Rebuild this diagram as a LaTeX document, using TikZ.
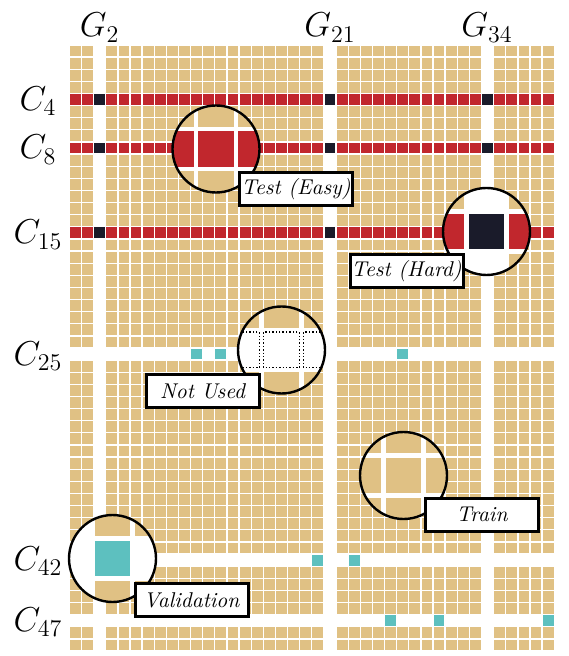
\documentclass[tikz,border=0pt]{standalone}
\definecolor{cellTan}{HTML}{E0C184}
\definecolor{cellRed}{HTML}{C1272D}
\definecolor{cellDark}{HTML}{1A1B2A}
\definecolor{cellTeal}{HTML}{5DC0BF}
\newcommand\gx[1]{69.4+#1*12.12+0.65}
\newcommand\gy[1]{45+#1*12.12+0.65}
\newcommand\gridcell[3]{\fill[#3] ({\gx{#1}},{\gy{#2}}) rectangle ++(10.82,10.82);}
\tikzset{
  lensborder/.style={draw=black,line width=1.2pt},
  lt/.style={fill=cellTan},
  lr/.style={fill=cellRed},
  lk/.style={fill=cellDark},
  lg/.style={fill=cellTeal},
  lw/.style={fill=white},
  ld/.style={draw=black,line width=0.7pt,dash pattern=on 0.7pt off 1pt},
  tagbox/.style={draw=black,fill=white,line width=1.5pt,minimum width=56.5pt,
    minimum height=16.5pt,inner sep=0pt,font=\fontsize{10.7}{13}\selectfont\itshape},
  axlabel/.style={font=\fontsize{17.5}{21}\selectfont,inner sep=0pt,anchor=base}
}
\newcommand\lens[5]{% name, cx, cy, radius, list i/j/style
  \begin{scope}[shift={(#2,#3)}]
    \begin{scope}
      \clip (0,0) circle (#4);
      \fill[white] (0,0) circle (#4);
      \foreach \i/\j/\cc in {#5}{\path[\cc] ({\i*40-17.8},{\j*40-17.8}) rectangle ++(35.6,35.6);}
    \end{scope}
    \draw[lensborder] (0,0) circle (#4);
    \coordinate (#1) at (0,0);
  \end{scope}}
\begin{document}
\begin{tikzpicture}[x=0.5pt,y=-0.5pt]
\useasboundingbox (0,0) rectangle (568,656);
% normal cells
\foreach \c in {0,1,3,4,...,20,22,23,...,33,35,36,...,39}{
  \foreach \r in {0,1,2,3,5,6,7,9,10,...,14,16,17,...,24,26,27,...,41,43,44,45,46,48,49}{
    \gridcell{\c}{\r}{cellTan}
  }
  \foreach \r in {4,8,15}{\gridcell{\c}{\r}{cellRed}}
}
\foreach \c in {2,21,34}{\foreach \r in {4,8,15}{\gridcell{\c}{\r}{cellDark}}}
\foreach \c/\r in {10/25,12/25,27/25,20/42,23/42,26/47,30/47,39/47}{\gridcell{\c}{\r}{cellTeal}}
% axis labels
\node[axlabel] (g2) at (99.7,37) {$G_{2}$};
\node[axlabel] (g21) at (330,37) {$G_{21}$};
\node[axlabel] (g34) at (487,37) {$G_{34}$};
\node[axlabel] (c4) at (38,110.5) {$C_{4}$};
\node[axlabel] (c8) at (38,159) {$C_{8}$};
\node[axlabel] (c15) at (38,244) {$C_{15}$};
\node[axlabel] (c25) at (38,365) {$C_{25}$};
\node[axlabel] (c42) at (38,570) {$C_{42}$};
\node[axlabel] (c47) at (38,631) {$C_{47}$};
% lenses
\lens{easy}{216}{149}{43.5}{-1/-1/lt,0/-1/lt,1/-1/lt,-1/0/lr,0/0/lr,1/0/lr,-1/1/lt,0/1/lt,1/1/lt}
\lens{hard}{486.5}{231.5}{43.5}{-1/-1/lt,0/-1/lw,1/-1/lt,-1/0/lr,0/0/lk,1/0/lr,-1/1/lt,0/1/lw,1/1/lt}
\lens{unused}{281.5}{350}{43.5}{-1/-1/lt,0/-1/lt,1/-1/lt,-1/0/ld,0/0/ld,1/0/ld,-1/1/lt,0/1/lt,1/1/lt}
\lens{train}{403.5}{475.5}{43.5}{-1/-1/lt,0/-1/lt,1/-1/lt,-1/0/lt,0/0/lt,1/0/lt,-1/1/lt,0/1/lt,1/1/lt}
\lens{valid}{112.5}{558.5}{43.5}{-1/-1/lw,0/-1/lt,1/-1/lt,-1/0/lw,0/0/lg,1/0/lw,-1/1/lw,0/1/lt,1/1/lt}
% tags
\node[tagbox] (teasy) at (296,189) {Test (Easy)};
\node[tagbox] (thard) at (406.5,271) {Test (Hard)};
\node[tagbox] (tunused) at (202.5,391) {Not Used};
\node[tagbox] (ttrain) at (482,514.5) {Train};
\node[tagbox] (tvalid) at (191.5,600) {Validation};
\end{tikzpicture}
\end{document}
